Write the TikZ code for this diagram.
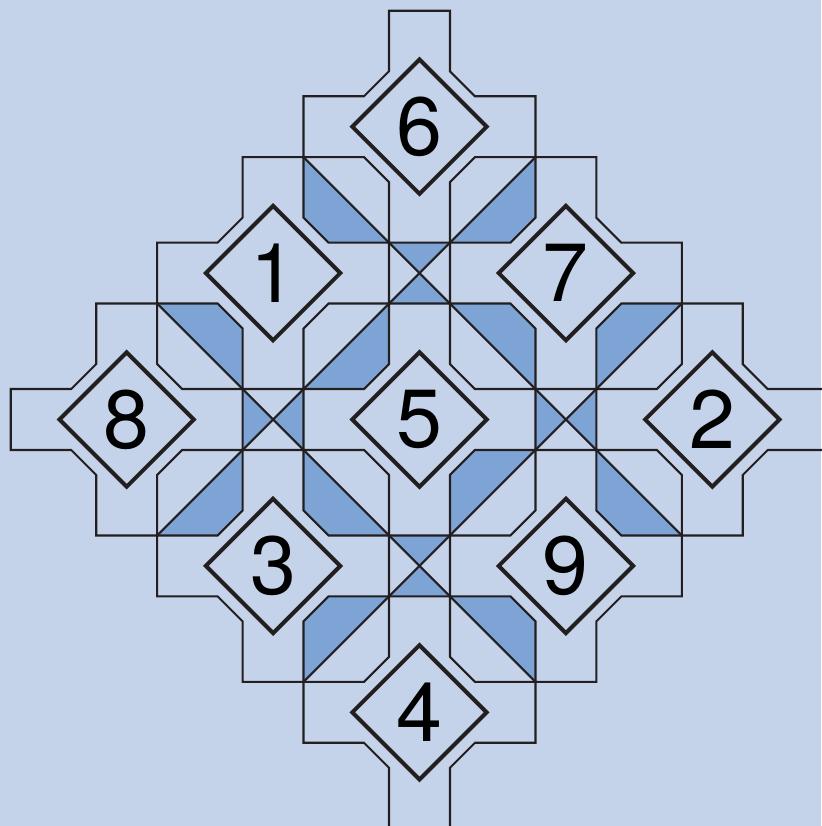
\documentclass[tikz,border=0pt]{standalone}
\usepackage{fontspec}
\setmainfont{TeX Gyre Heros}
\usepackage{tikz}
\usetikzlibrary{shapes.geometric}
\definecolor{ink}{HTML}{231F20}
\definecolor{pale}{HTML}{C5D3EA}
\definecolor{tileblue}{HTML}{7DA4D5}
\tikzset{
  baldosa/.style={draw=ink,line width=1.2pt},
  rombo/.style={diamond,draw=ink,line width=2.3pt,fill=pale,minimum size=2.72cm,inner sep=0pt,font=\fontsize{47}{47}\selectfont},
  relleno/.style={fill=tileblue},
}
\begin{document}
\begin{tikzpicture}[x=2.928cm,y=-2.928cm]
  \useasboundingbox (-2.8654,-2.8654) rectangle (2.7425,2.7766);
  \fill[pale] (-2.8654,-2.8654) rectangle (2.7425,2.7766);
  \foreach \a/\b/\sx/\sy in {-1/-1/1/-1,1/-1/-1/-1,1/-1/-1/1,1/-1/1/1,0/0/-1/-1,-1/-1/-1/1,-1/1/-1/-1,-1/1/1/-1,-1/1/1/1,0/0/1/1,1/1/1/-1,1/1/-1/1}
    \fill[relleno,shift={(\a,\b)},xscale=\sx,yscale=\sy] (0.208,0.792) -- (0.208,0.379) -- (0.379,0.208) -- (0.792,0.208) -- cycle;
  \foreach \a/\b/\r in {0/-1/0,0/1/0,-1/0/90,1/0/90}
    \fill[relleno,shift={(\a,\b)},rotate=\r] (-0.208,-0.208) -- (0.208,-0.208) -- (0,0) -- (0.208,0.208) -- (-0.208,0.208) -- (0,0) -- cycle;
  \foreach \r in {0,90,180,270}
    \draw[baldosa,rotate=\r] (-0.792,-1.792) -- (1.792,0.792);
  \foreach \a/\b in {0/-2,-1/-1,1/-1,-2/0,0/0,2/0,-1/1,1/1,0/2}
    \draw[baldosa,shift={(\a,\b)}] (-0.208,-0.792) -- (0.208,-0.792) -- (0.208,-0.379) -- (0.379,-0.208) -- (0.792,-0.208) -- (0.792,0.208) -- (0.379,0.208) -- (0.208,0.379) -- (0.208,0.792) -- (-0.208,0.792) -- (-0.208,0.379) -- (-0.379,0.208) -- (-0.792,0.208) -- (-0.792,-0.208) -- (-0.379,-0.208) -- (-0.208,-0.379) -- cycle;
  \foreach \n/\a/\b in {6/0/-2,1/-1/-1,7/1/-1,8/-2/0,5/0/0,2/2/0,3/-1/1,9/1/1,4/0/2}
    \node[rombo] (t\n) at (\a,\b) {\n};
\end{tikzpicture}
\end{document}
